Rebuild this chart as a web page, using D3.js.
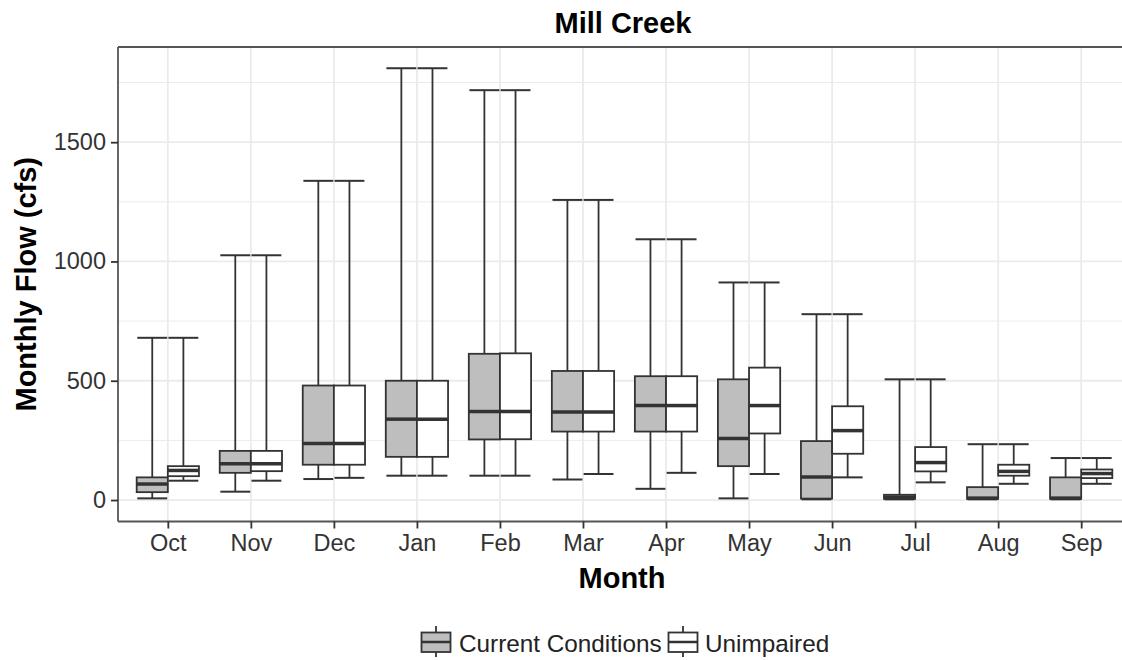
<html>
<head>
<title>Mill Creek</title>
<script src="https://d3js.org/d3.v7.min.js"></script>
<style>
    html, body { margin: 0; background: white; overflow: hidden; }
    svg { display: block; }
    text { font-family: "Liberation Sans", Arial, sans-serif; }
</style>
</head>
<body>
<svg id="chart" width="1122" height="660"></svg>
<script>
// month categories (water year)
const months = ['Oct','Nov','Dec','Jan','Feb','Mar','Apr','May','Jun','Jul','Aug','Sep'];
const series = ['Current Conditions', 'Unimpaired'];
const yTicks = [0, 500, 1000, 1500];
const yMinor = [250, 750, 1250, 1750];

// box stats, cfs
const curLow = [7, 35, 88, 102, 102, 86, 47, 7, 3, 3, 3, 3];
const curQ1 = [33, 114, 148, 181, 254, 287, 287, 142, 6, 5, 5, 5];
const curMed = [67, 152, 237, 339, 371, 369, 396, 258, 97, 12, 8, 8];
const curQ3 = [95, 206, 480, 500, 613, 541, 519, 506, 247, 22, 54, 95];
const curHigh = [680, 1026, 1338, 1810, 1718, 1258, 1093, 912, 779, 506, 234, 176];

const unLow = [81, 81, 93, 102, 102, 109, 114, 109, 95, 74, 68, 68];
const unQ1 = [100, 121, 148, 181, 255, 287, 287, 279, 194, 120, 102, 92];
const unMed = [124, 152, 237, 339, 371, 369, 396, 396, 291, 157, 120, 111];
const unQ3 = [142, 206, 480, 500, 615, 541, 519, 555, 393, 222, 148, 128];
const unHigh = [680, 1026, 1338, 1810, 1718, 1258, 1093, 912, 779, 506, 234, 176];

const fills = ['#bebebe', '#ffffff'];
const ink = '#333333';

let svg = d3.select('svg#chart');
// panel runs past the right edge, as in the original export
let panel = {left: 118, right: 1131, top: 47, bottom: 521.5};

let x = d3.scaleLinear().domain([-0.6, months.length - 0.4]).range([panel.left, panel.right]);
let y = d3.scaleLinear().domain([-90, 1899]).range([panel.bottom, panel.top]);

let unit = x(1) - x(0);
let boxW = 0.375 * unit;
let capW = boxW * 0.96;

// grid
let grid = svg.append('g');
grid.selectAll('.minor').data(yMinor).enter().append('line')
    .attr('x1', panel.left).attr('x2', panel.right)
    .attr('y1', d => y(d)).attr('y2', d => y(d))
    .attr('stroke', '#ebebeb').attr('stroke-width', 1);
grid.selectAll('.major').data(yTicks).enter().append('line')
    .attr('x1', panel.left).attr('x2', panel.right)
    .attr('y1', d => y(d)).attr('y2', d => y(d))
    .attr('stroke', '#ebebeb').attr('stroke-width', 1.8);
grid.selectAll('.vmajor').data(months).enter().append('line')
    .attr('x1', (d, i) => x(i)).attr('x2', (d, i) => x(i))
    .attr('y1', panel.top).attr('y2', panel.bottom)
    .attr('stroke', '#ebebeb').attr('stroke-width', 1.8);

// boxes
let stats = [
    {low: curLow, q1: curQ1, med: curMed, q3: curQ3, high: curHigh, off: -0.1875, fill: fills[0]},
    {low: unLow, q1: unQ1, med: unMed, q3: unQ3, high: unHigh, off: 0.1875, fill: fills[1]}
];

stats.forEach(function(s){
    let rows = months.map((m, i) => ({i: i, low: s.low[i], q1: s.q1[i], med: s.med[i], q3: s.q3[i], high: s.high[i]}));
    let g = svg.append('g');
    let cx = d => x(d.i + s.off);

    // caps
    g.selectAll('.capTop').data(rows).enter().append('line')
        .attr('x1', d => cx(d) - capW / 2).attr('x2', d => cx(d) + capW / 2)
        .attr('y1', d => y(d.high)).attr('y2', d => y(d.high))
        .attr('stroke', ink).attr('stroke-width', 2);
    g.selectAll('.capBot').data(rows).enter().append('line')
        .attr('x1', d => cx(d) - capW / 2).attr('x2', d => cx(d) + capW / 2)
        .attr('y1', d => y(d.low)).attr('y2', d => y(d.low))
        .attr('stroke', ink).attr('stroke-width', 2);
    // whiskers
    g.selectAll('.whUp').data(rows).enter().append('line')
        .attr('x1', cx).attr('x2', cx)
        .attr('y1', d => y(d.high)).attr('y2', d => y(d.q3))
        .attr('stroke', ink).attr('stroke-width', 1.8);
    g.selectAll('.whDn').data(rows).enter().append('line')
        .attr('x1', cx).attr('x2', cx)
        .attr('y1', d => y(d.q1)).attr('y2', d => y(d.low))
        .attr('stroke', ink).attr('stroke-width', 1.8);
    // box
    g.selectAll('rect').data(rows).enter().append('rect')
        .attr('x', d => cx(d) - boxW / 2)
        .attr('width', boxW)
        .attr('y', d => y(d.q3))
        .attr('height', d => y(d.q1) - y(d.q3))
        .attr('fill', s.fill)
        .attr('stroke', ink).attr('stroke-width', 1.8);
    // median
    g.selectAll('.med').data(rows).enter().append('line')
        .attr('x1', d => cx(d) - boxW / 2).attr('x2', d => cx(d) + boxW / 2)
        .attr('y1', d => y(d.med)).attr('y2', d => y(d.med))
        .attr('stroke', ink).attr('stroke-width', 3.5);
});

// panel border: top, left, bottom (right side is cut off)
let border = [
    [panel.left, panel.top, 1122, panel.top],
    [panel.left, panel.top, panel.left, panel.bottom],
    [panel.left, panel.bottom, 1122, panel.bottom]
];
svg.append('g').selectAll('line').data(border).enter().append('line')
    .attr('x1', d => d[0]).attr('y1', d => d[1])
    .attr('x2', d => d[2]).attr('y2', d => d[3])
    .attr('stroke', '#555').attr('stroke-width', 1.8);

// axes
let yAxis = d3.axisLeft(y).tickValues(yTicks).tickFormat(d3.format('d')).tickSize(7).tickPadding(5);
let yg = svg.append('g').attr('transform', `translate(${panel.left},0)`).call(yAxis);
let xAxis = d3.axisBottom(x).tickValues(d3.range(months.length)).tickFormat(i => months[i]).tickSize(7).tickPadding(6);
let xg = svg.append('g').attr('transform', `translate(0,${panel.bottom})`).call(xAxis);
[yg, xg].forEach(function(g){
    g.select('.domain').remove();
    g.selectAll('line').attr('stroke', ink).attr('stroke-width', 1.8);
    g.selectAll('text').attr('font-size', 23.5).attr('fill', '#333')
        .attr('font-family', '"Liberation Sans", Arial, sans-serif');
});

// titles
svg.append('text')
    .attr('x', 623).attr('y', 33)
    .attr('text-anchor', 'middle').attr('font-size', 29).attr('font-weight', 'bold')
    .text('Mill Creek');
svg.append('text')
    .attr('x', 622).attr('y', 588)
    .attr('text-anchor', 'middle').attr('font-size', 29).attr('font-weight', 'bold')
    .text('Month');
svg.append('text')
    .attr('transform', `translate(36,${(panel.top + panel.bottom) / 2}) rotate(-90)`)
    .attr('text-anchor', 'middle').attr('font-size', 29).attr('font-weight', 'bold')
    .text('Monthly Flow (cfs)');

// legend
let legend = svg.append('g');
let keyX = [436, 683];
let labelX = [459, 705];
series.forEach(function(name, i){
    let k = legend.append('g').attr('transform', `translate(${keyX[i]},0)`);
    k.append('line').attr('x1', 0).attr('x2', 0).attr('y1', 626).attr('y2', 657)
        .attr('stroke', ink).attr('stroke-width', 1.8);
    k.append('rect').attr('x', -14.5).attr('y', 632.5).attr('width', 29).attr('height', 19.5)
        .attr('fill', fills[i]).attr('stroke', ink).attr('stroke-width', 1.8);
    k.append('line').attr('x1', -14.5).attr('x2', 14.5).attr('y1', 642).attr('y2', 642)
        .attr('stroke', ink).attr('stroke-width', 2.5);
    legend.append('text')
        .attr('x', labelX[i]).attr('y', 652)
        .attr('font-size', 24.3).attr('fill', '#222')
        .text(name);
});
</script>
</body>
</html>
